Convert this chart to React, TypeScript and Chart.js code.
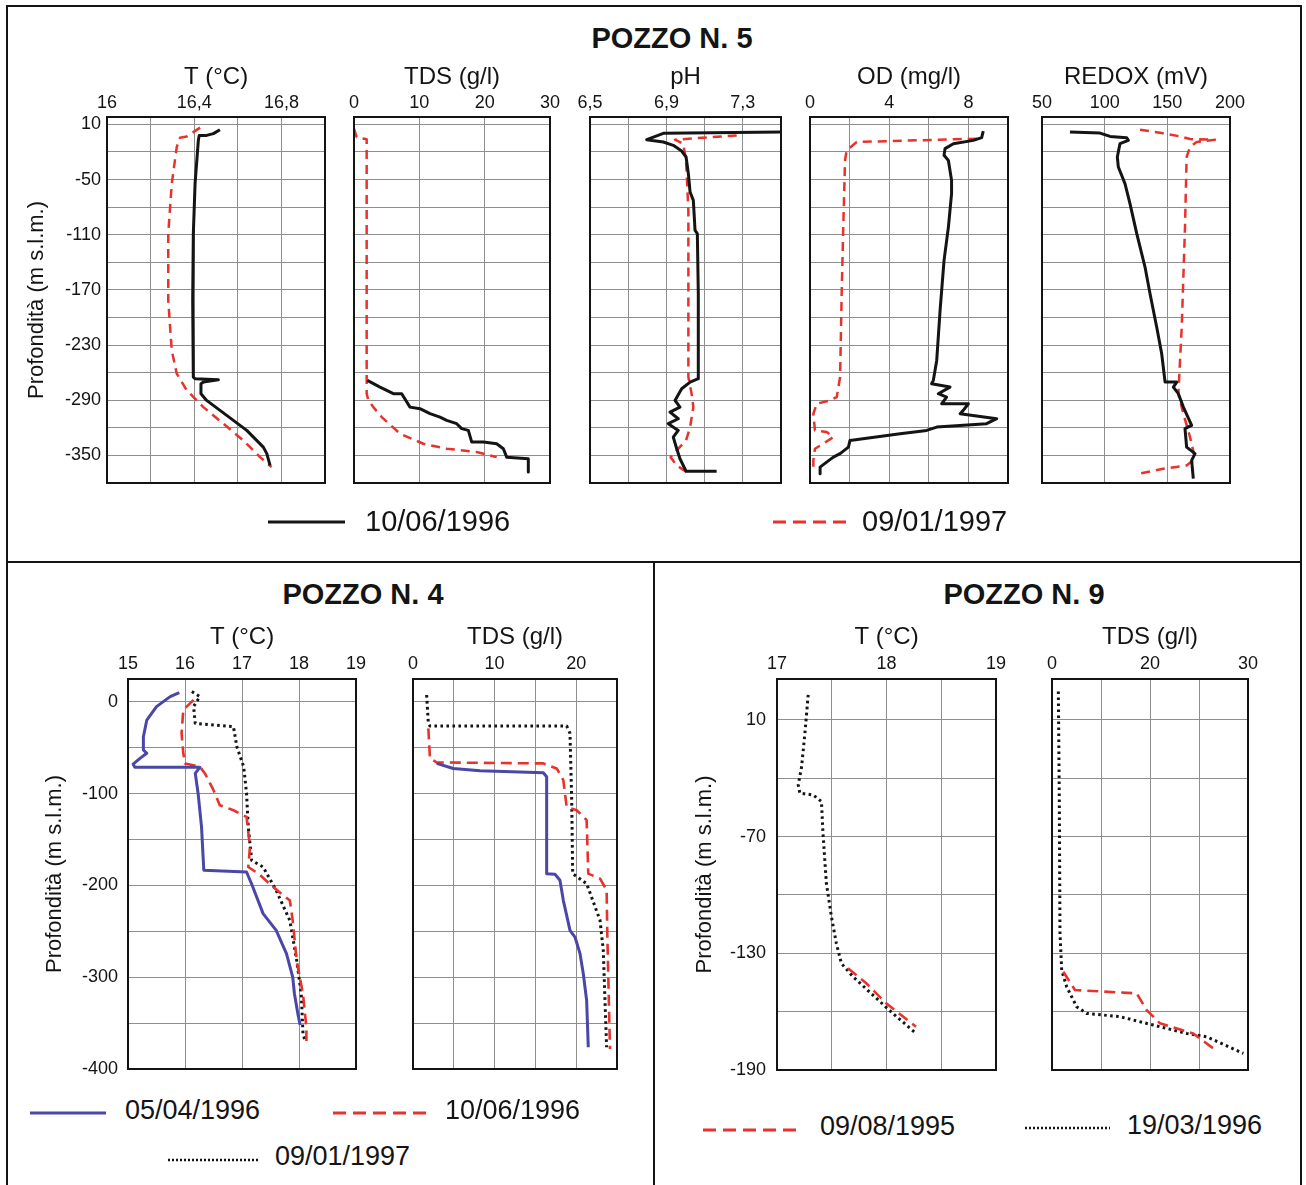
import React, { useEffect, useRef } from "react";
import { Chart, registerables } from "chart.js";

Chart.register(...registerables);
Chart.defaults.font.family = "'Liberation Sans', Arial, sans-serif";
Chart.defaults.color = "#111";

type Pt = [number, number]; // [value, depth]

// ---------------- POZZO N. 5 ----------------
const P5_DATES = ["10/06/1996", "09/01/1997"];
const P5_DEPTH_TICKS = [10, -20, -50, -80, -110, -140, -170, -200, -230, -260, -290, -320, -350, -380];
const P5_DEPTH_LABELS = ["10", "", "-50", "", "-110", "", "-170", "", "-230", "", "-290", "", "-350", ""];

const P5_T_TICKS = [16, 16.2, 16.4, 16.6, 16.8, 17];
const P5_T_LABELS = ["16", "", "16,4", "", "16,8", ""];
const P5_TDS_TICKS = [0, 10, 20, 30];
const P5_TDS_LABELS = ["0", "10", "20", "30"];
const P5_PH_TICKS = [6.5, 6.7, 6.9, 7.1, 7.3, 7.5];
const P5_PH_LABELS = ["6,5", "", "6,9", "", "7,3", ""];
const P5_OD_TICKS = [0, 2, 4, 6, 8, 10];
const P5_OD_LABELS = ["0", "", "4", "", "8", ""];
const P5_REDOX_TICKS = [50, 100, 150, 200];
const P5_REDOX_LABELS = ["50", "100", "150", "200"];

const P5_T_1996: Pt[] = [
  [16.518, 4.2], [16.488, -0.1], [16.457, -2], [16.423, -2], [16.419, -7.4], [16.404, -54.5],
  [16.396, -108.9], [16.393, -181.4], [16.396, -264.8], [16.404, -266.6], [16.511, -267.7],
  [16.442, -270.3], [16.431, -272], [16.431, -282.9], [16.457, -290.2], [16.549, -306.5],
  [16.641, -322.8], [16.717, -341], [16.733, -348.1], [16.748, -360.9],
];
const P5_T_1997: Pt[] = [
  [16.427, 6.4], [16.366, -3.1], [16.335, -4.5], [16.32, -14.7], [16.297, -54.5], [16.281, -108.9],
  [16.281, -181.4], [16.297, -235.8], [16.32, -261.1], [16.366, -279.3], [16.442, -297.5],
  [16.534, -315.5], [16.625, -333.7], [16.702, -351.9], [16.755, -362.7],
];
const P5_TDS_1996: Pt[] = [
  [2.04, -268.4], [3.98, -275.7], [6.02, -282.9], [7.3, -282.9], [8.57, -297.5], [10.1, -299.2],
  [11.63, -304.6], [13.16, -308.3], [14.19, -311.9], [15.72, -315.5], [16.48, -320.9], [17.5, -322.8],
  [18.02, -335.5], [19.8, -335.5], [21.84, -337.3], [22.86, -342.7], [23.37, -351.9], [26.68, -353.6],
  [26.68, -368.1],
];
const P5_TDS_1997: Pt[] = [
  [0, 5.3], [0.4, -4], [1.94, -6.3], [1.94, -282.9], [2.2, -290], [2.96, -297.5], [4.24, -308.3],
  [7.04, -326.4], [10.61, -337.3], [14.19, -342.7], [18.78, -346.3], [21.84, -351.9],
];
const P5_PH_1996: Pt[] = [
  [7.5, 1.6], [6.884, 0.2], [6.797, -6.7], [6.884, -9.2], [6.936, -12.8], [6.98, -19], [7.003, -25.5],
  [7.015, -43.6], [7.024, -63.6], [7.041, -72.7], [7.05, -105.3], [7.062, -108.9], [7.067, -174.1],
  [7.067, -266.6], [7.024, -270.3], [6.98, -277.5], [6.945, -290.2], [6.971, -297.5], [6.919, -302.9],
  [6.962, -310.1], [6.91, -315.5], [6.962, -322.8], [6.936, -330.1], [6.954, -342.7], [6.971, -353.6],
  [7.003, -367.1], [7.163, -367.1],
];
const P5_PH_1997: Pt[] = [
  [7.268, -2], [6.945, -6.7], [6.988, -11], [7.003, -29.2], [7.015, -83.5], [7.015, -264.8],
  [7.032, -282.9], [7.041, -297.5], [7.024, -319.2], [7.003, -333.7], [6.962, -342.7], [6.922, -351.9],
  [6.954, -360.9], [7.006, -368.1],
];
const P5_OD_1996: Pt[] = [
  [8.75, 2.7], [8.67, -4.5], [8.25, -7.4], [7.24, -11], [6.82, -16.4], [6.77, -23.7], [6.99, -29.2],
  [7.15, -50.9], [7.15, -65.4], [6.99, -101.7], [6.77, -137.9], [6.57, -192.3], [6.4, -246.7],
  [6.23, -268.4], [6.14, -272], [7.07, -275.7], [6.48, -282.9], [6.9, -286.6], [6.65, -293.8],
  [8.0, -293.8], [7.74, -301], [7.58, -304.6], [9.43, -310.1], [8.92, -315.5], [6.4, -319.2],
  [5.89, -322.8], [4.55, -326.4], [2.02, -333.7], [1.94, -341], [1.52, -348.1], [1.18, -351.9],
  [0.84, -357.3], [0.51, -362.7], [0.51, -370],
];
const P5_OD_1997: Pt[] = [
  [8.42, -5.6], [2.36, -9.2], [1.85, -18.3], [1.77, -29.2], [1.68, -101.7], [1.6, -174.1],
  [1.52, -264.8], [1.35, -286.6], [1.01, -290.2], [0.34, -293.8], [0.17, -304.6], [0.25, -322.8],
  [0.84, -324.6], [1.18, -330.1], [0.67, -337.3], [0.25, -342.7], [0.17, -355.4], [0.17, -364.5],
];
const P5_REDOX_1996: Pt[] = [
  [72.3, 1.6], [96.3, 0.5], [104.3, -3.1], [117.6, -4.5], [118.9, -7.4], [112.2, -11], [110.1, -25.5],
  [110.9, -36.4], [116.2, -54.5], [120.2, -76.2], [125.6, -108.9], [132.2, -145.2], [136.2, -174.1],
  [141.5, -210.4], [145.5, -239.4], [148.2, -270.3], [157.5, -270.3], [154.8, -275.7], [158.8, -282.9],
  [162.8, -297.5], [169.4, -317.4], [164.1, -320.9], [165.4, -341], [172.1, -348.1], [169.4, -355.4],
  [170.7, -375.3],
];
const P5_REDOX_1997: Pt[] = [
  [128.2, 4.2], [145.5, 0.5], [160.1, -3.1], [168.1, -6], [188, -6.7], [173.4, -9.2], [168.1, -14.7],
  [165.4, -25.5], [164.1, -101.7], [161.5, -210.4], [158.8, -282.9], [162.8, -304.6], [168.1, -330.1],
  [172.1, -353.6], [165.4, -360.9], [146.8, -364.5], [126.8, -370],
];

// ---------------- POZZO N. 4 ----------------
const P4_DATES = ["05/04/1996", "10/06/1996", "09/01/1997"];
const P4_DEPTH_TICKS = [0, -50, -100, -150, -200, -250, -300, -350, -400];
const P4_DEPTH_LABELS = ["0", "", "-100", "", "-200", "", "-300", "", "-400"];
const P4_T_TICKS = [15, 16, 17, 18, 19];
const P4_T_LABELS = ["15", "16", "17", "18", "19"];
const P4_TDS_TICKS = [0, 5, 10, 15, 20, 25];
const P4_TDS_LABELS = ["0", "", "10", "", "20", ""];

const P4_T_0496: Pt[] = [
  [15.9, 10.2], [15.74, 5.8], [15.5, -5.1], [15.33, -19.7], [15.27, -37.9], [15.27, -52.4], [15.33, -56],
  [15.21, -61.5], [15.09, -67.7], [15.12, -71.3], [16.26, -71.3], [16.18, -77.8], [16.23, -99.7],
  [16.29, -136.2], [16.33, -183.4], [17.08, -185.3], [17.19, -201.6], [17.37, -230.7], [17.6, -248.9],
  [17.78, -274.3], [17.89, -299.9], [17.92, -318], [17.98, -339.9], [18.02, -352],
];
const P4_T_0696: Pt[] = [
  [16.15, 2.2], [15.97, -8.7], [15.94, -34.2], [15.97, -56], [16.0, -67], [16.26, -70.7], [16.35, -77.9],
  [16.5, -96.1], [16.61, -112.5], [16.85, -118], [17.08, -125.3], [17.14, -158], [17.11, -179.9],
  [17.29, -187.2], [17.55, -201.8], [17.84, -216.4], [17.89, -238.3], [17.96, -282], [18.07, -318.4],
  [18.13, -354.9], [18.13, -369.4],
];
const P4_T_0197: Pt[] = [
  [16.12, 11.3], [16.26, 5.8], [16.15, -5.1], [16.18, -23.3], [16.85, -27], [16.91, -48.8], [17.03, -70.7],
  [17.08, -99.8], [17.11, -136.2], [17.17, -172.7], [17.37, -179.9], [17.6, -205.4], [17.84, -238.3],
  [17.96, -282], [18.04, -318.4], [18.07, -362.1], [18.11, -369.4],
];
const P4_TDS_0496: Pt[] = [
  [2.9, -67], [4.94, -72.5], [8.21, -75], [15.97, -77.2], [16.38, -81.5], [16.38, -187.1], [17.4, -187.8],
  [18.01, -194.3], [18.42, -216.2], [19.24, -248.9], [19.85, -256.2], [20.47, -274.3], [20.87, -296.2],
  [21.28, -325.3], [21.48, -376.3],
];
const P4_TDS_0696: Pt[] = [
  [1.88, -28.8], [2.08, -61.5], [2.9, -65.9], [15.97, -67], [17.61, -72.5], [18.42, -85.2], [18.83, -114.3],
  [20.06, -118], [21.28, -128.8], [21.48, -187.1], [22.92, -192.5], [23.73, -205.2], [23.81, -252.5],
  [24.14, -378.2],
];
const P4_TDS_0197: Pt[] = [
  [1.67, 7.6], [1.88, -23.3], [2.08, -26.2], [18.83, -26.2], [19.24, -34.2], [19.45, -107], [19.57, -187.1],
  [21.28, -198], [22.92, -238], [23.32, -270.7], [23.53, -325.3], [23.73, -376.3],
];

// ---------------- POZZO N. 9 ----------------
const P9_DATES = ["09/08/1995", "19/03/1996"];
const P9_DEPTH_TICKS = [-10, -40, -70, -100, -130, -160, -190];
const P9_DEPTH_LABELS = ["10", "", "-70", "", "-130", "", "-190"];
const P9_T_TICKS = [17, 17.5, 18, 18.5, 19];
const P9_T_LABELS = ["17", "", "18", "", "19"];
const P9_TDS_TICKS = [0, 7.5, 15, 22.5, 30];
const P9_TDS_LABELS = ["0", "", "20", "", "30"];

const P9_T_0895: Pt[] = [[17.648, -137.7], [17.815, -145.4], [17.997, -155.7], [18.27, -167.8]];
const P9_T_0396: Pt[] = [
  [17.285, 2.9], [17.255, -16.8], [17.225, -34], [17.194, -43.4], [17.209, -47.7], [17.33, -48.6],
  [17.406, -52], [17.42, -68.3], [17.451, -94], [17.497, -111.2], [17.542, -124.9], [17.588, -135.2],
  [17.694, -142], [17.876, -151.5], [18.058, -160.9], [18.27, -171.2],
];
const P9_TDS_0895: Pt[] = [
  [1.73, -139.5], [3.52, -148.9], [12.96, -150.6], [14.49, -159.2], [16.53, -166], [21.63, -171.2],
  [24.69, -178.9],
];
const P9_TDS_0396: Pt[] = [
  [0.97, 4.6], [1.12, -51.2], [1.22, -119.7], [1.48, -138.6], [2.24, -147.2], [3.78, -157.5],
  [5.31, -160.9], [10.41, -162.6], [15.51, -166.9], [20.62, -171.2], [23.68, -172.9], [29.28, -181.5],
];

// ---------------- styling ----------------
const FONT = "'Liberation Sans', Arial, sans-serif";
const INK = "#141414";
const RED = "#e8322c";
const BLUE = "#4a47a6";
const GRID = "#8e8e8e";

type StyleKey = "black" | "redTop" | "red" | "blue" | "dot";
const STYLES: Record<StyleKey, any> = {
  black: { borderColor: INK, borderWidth: 3, borderDash: [] },
  redTop: { borderColor: RED, borderWidth: 2.5, borderDash: [9, 6] },
  red: { borderColor: RED, borderWidth: 2.6, borderDash: [11, 6] },
  blue: { borderColor: BLUE, borderWidth: 3, borderDash: [] },
  dot: { borderColor: INK, borderWidth: 3, borderDash: [2.6, 3.4] },
};

interface PanelSpec {
  box: [number, number, number, number]; // l, t, r, b
  xTitle: string;
  xMin: number; xMax: number; xTicks: number[]; xLabels: string[];
  yMin: number; yMax: number; yTicks: number[]; yLabels: string[];
  yTitle?: string;
  yW?: number;
  yPad?: number;
  xh: number;
  xPad: number;
  series: { data: Pt[]; style: StyleKey; label: string }[];
}

const TOP = { t: 117, b: 483 };
const BOT = { t: 679, b: 1069 };

const PANELS: PanelSpec[] = [
  {
    box: [107, TOP.t, 325, TOP.b], xTitle: "T (°C)", xMin: 16, xMax: 17, xTicks: P5_T_TICKS, xLabels: P5_T_LABELS,
    yMin: -380, yMax: 18, yTicks: P5_DEPTH_TICKS, yLabels: P5_DEPTH_LABELS, yTitle: "Profondità (m s.l.m.)", yW: 85, yPad: 6,
    xh: 54, xPad: 3,
    series: [{ data: P5_T_1996, style: "black", label: P5_DATES[0] }, { data: P5_T_1997, style: "redTop", label: P5_DATES[1] }],
  },
  {
    box: [354, TOP.t, 550, TOP.b], xTitle: "TDS (g/l)", xMin: 0, xMax: 30, xTicks: P5_TDS_TICKS, xLabels: P5_TDS_LABELS,
    yMin: -380, yMax: 18, yTicks: P5_DEPTH_TICKS, yLabels: P5_DEPTH_LABELS, xh: 54, xPad: 3,
    series: [{ data: P5_TDS_1996, style: "black", label: P5_DATES[0] }, { data: P5_TDS_1997, style: "redTop", label: P5_DATES[1] }],
  },
  {
    box: [590, TOP.t, 781, TOP.b], xTitle: "pH", xMin: 6.5, xMax: 7.5, xTicks: P5_PH_TICKS, xLabels: P5_PH_LABELS,
    yMin: -380, yMax: 18, yTicks: P5_DEPTH_TICKS, yLabels: P5_DEPTH_LABELS, xh: 54, xPad: 3,
    series: [{ data: P5_PH_1996, style: "black", label: P5_DATES[0] }, { data: P5_PH_1997, style: "redTop", label: P5_DATES[1] }],
  },
  {
    box: [810, TOP.t, 1008, TOP.b], xTitle: "OD (mg/l)", xMin: 0, xMax: 10, xTicks: P5_OD_TICKS, xLabels: P5_OD_LABELS,
    yMin: -380, yMax: 18, yTicks: P5_DEPTH_TICKS, yLabels: P5_DEPTH_LABELS, xh: 54, xPad: 3,
    series: [{ data: P5_OD_1996, style: "black", label: P5_DATES[0] }, { data: P5_OD_1997, style: "redTop", label: P5_DATES[1] }],
  },
  {
    box: [1042, TOP.t, 1230, TOP.b], xTitle: "REDOX (mV)", xMin: 50, xMax: 200, xTicks: P5_REDOX_TICKS, xLabels: P5_REDOX_LABELS,
    yMin: -380, yMax: 18, yTicks: P5_DEPTH_TICKS, yLabels: P5_DEPTH_LABELS, xh: 54, xPad: 3,
    series: [{ data: P5_REDOX_1996, style: "black", label: P5_DATES[0] }, { data: P5_REDOX_1997, style: "redTop", label: P5_DATES[1] }],
  },
  {
    box: [128, BOT.t, 356, BOT.b], xTitle: "T (°C)", xMin: 15, xMax: 19, xTicks: P4_T_TICKS, xLabels: P4_T_LABELS,
    yMin: -400, yMax: 25, yTicks: P4_DEPTH_TICKS, yLabels: P4_DEPTH_LABELS, yTitle: "Profondità (m s.l.m.)", yW: 88, yPad: 10,
    xh: 56, xPad: 4,
    series: [
      { data: P4_T_0496, style: "blue", label: P4_DATES[0] },
      { data: P4_T_0696, style: "red", label: P4_DATES[1] },
      { data: P4_T_0197, style: "dot", label: P4_DATES[2] },
    ],
  },
  {
    box: [413, BOT.t, 617, BOT.b], xTitle: "TDS (g/l)", xMin: 0, xMax: 25, xTicks: P4_TDS_TICKS, xLabels: P4_TDS_LABELS,
    yMin: -400, yMax: 25, yTicks: P4_DEPTH_TICKS, yLabels: P4_DEPTH_LABELS, xh: 56, xPad: 4,
    series: [
      { data: P4_TDS_0496, style: "blue", label: P4_DATES[0] },
      { data: P4_TDS_0696, style: "red", label: P4_DATES[1] },
      { data: P4_TDS_0197, style: "dot", label: P4_DATES[2] },
    ],
  },
  {
    box: [777, BOT.t, 996, 1070], xTitle: "T (°C)", xMin: 17, xMax: 19, xTicks: P9_T_TICKS, xLabels: P9_T_LABELS,
    yMin: -190, yMax: 11, yTicks: P9_DEPTH_TICKS, yLabels: P9_DEPTH_LABELS, yTitle: "Profondità (m s.l.m.)", yW: 87, yPad: 11,
    xh: 56, xPad: 4,
    series: [
      { data: P9_T_0895, style: "red", label: P9_DATES[0] },
      { data: P9_T_0396, style: "dot", label: P9_DATES[1] },
    ],
  },
  {
    box: [1052, BOT.t, 1248, 1070], xTitle: "TDS (g/l)", xMin: 0, xMax: 30, xTicks: P9_TDS_TICKS, xLabels: P9_TDS_LABELS,
    yMin: -190, yMax: 11, yTicks: P9_DEPTH_TICKS, yLabels: P9_DEPTH_LABELS, xh: 56, xPad: 4,
    series: [
      { data: P9_TDS_0895, style: "red", label: P9_DATES[0] },
      { data: P9_TDS_0396, style: "dot", label: P9_DATES[1] },
    ],
  },
];

const boxBorder = {
  id: "boxBorder",
  afterDraw(chart: any) {
    const { ctx, chartArea } = chart;
    ctx.save();
    ctx.strokeStyle = INK;
    ctx.lineWidth = 2;
    ctx.strokeRect(chartArea.left, chartArea.top, chartArea.right - chartArea.left, chartArea.bottom - chartArea.top);
    ctx.restore();
  },
};

function Panel({ spec }: { spec: PanelSpec }) {
  const ref = useRef<HTMLCanvasElement | null>(null);
  const [l, t, r, b] = spec.box;
  const hasY = !!spec.yTitle;
  const yW = hasY ? spec.yW! : 0;
  const padL = hasY ? 8 : 30;
  const padR = 30;
  const padT = 6;
  const padB = 6;
  const cx = l - yW - padL;
  const cy = t - spec.xh - padT;
  const cw = r - cx + padR;
  const ch = b - cy + padB;

  useEffect(() => {
    if (!ref.current) return;
    const chart = new Chart(ref.current, {
      type: "line",
      data: {
        datasets: spec.series.map((s) => ({
          label: s.label,
          data: s.data.map(([x, y]) => ({ x, y })),
          ...STYLES[s.style],
          pointRadius: 0,
          fill: false,
          tension: 0,
          borderJoinStyle: "round",
          borderCapStyle: "butt",
        })),
      },
      options: {
        responsive: false,
        animation: false,
        events: [],
        layout: { padding: { left: padL, right: padR, top: padT, bottom: padB } },
        plugins: { legend: { display: false }, tooltip: { enabled: false }, title: { display: false } },
        scales: {
          x: {
            type: "linear",
            position: "top",
            min: spec.xMin,
            max: spec.xMax,
            bounds: "data",
            grid: { color: GRID, lineWidth: 1, drawTicks: false },
            border: { display: false },
            ticks: {
              autoSkip: false,
              maxRotation: 0,
              minRotation: 0,
              padding: spec.xPad,
              color: INK,
              font: { size: 18, family: FONT },
              callback: (_v: any, i: number) => spec.xLabels[i] ?? "",
            },
            title: { display: true, text: spec.xTitle, color: INK, font: { size: 24, family: FONT }, padding: { top: 0, bottom: 0 } },
            afterBuildTicks: (s: any) => {
              s.ticks = spec.xTicks.map((v) => ({ value: v }));
            },
            afterFit: (s: any) => {
              s.height = spec.xh;
              s.paddingLeft = 0;
              s.paddingRight = 0;
            },
          },
          y: {
            type: "linear",
            position: "left",
            min: spec.yMin,
            max: spec.yMax,
            bounds: "data",
            grid: { color: GRID, lineWidth: 1, drawTicks: false },
            border: { display: false },
            ticks: {
              display: hasY,
              autoSkip: false,
              padding: spec.yPad ?? 6,
              color: INK,
              font: { size: 18, family: FONT },
              callback: (_v: any, i: number) => spec.yLabels[i] ?? "",
            },
            title: {
              display: hasY,
              text: spec.yTitle ?? "",
              color: INK,
              font: { size: 22, family: FONT },
              padding: { top: 2, bottom: 0 },
            },
            afterBuildTicks: (s: any) => {
              s.ticks = spec.yTicks.map((v) => ({ value: v }));
            },
            afterFit: (s: any) => {
              s.width = yW;
              s.paddingTop = 0;
              s.paddingBottom = 0;
            },
          },
        },
      } as any,
      plugins: [boxBorder],
    });
    return () => chart.destroy();
  }, []);

  return (
    <canvas
      ref={ref}
      width={cw}
      height={ch}
      style={{ position: "absolute", left: cx, top: cy, width: cw, height: ch }}
    />
  );
}

type LegendKind = "black" | "red" | "blue" | "dot";
function LegendItem({ x1, x2, y, kind, text, tx, ty, size }: {
  x1: number; x2: number; y: number; kind: LegendKind; text: string; tx: number; ty: number; size: number;
}) {
  const stroke = kind === "red" ? RED : kind === "blue" ? BLUE : INK;
  const dash = kind === "red" ? "13 7" : kind === "dot" ? "2 2" : undefined;
  const w = kind === "dot" ? 2.5 : 3;
  return (
    <>
      <svg style={{ position: "absolute", left: x1, top: y - 4, overflow: "visible" }} width={x2 - x1} height={8}>
        <line x1={0} y1={4} x2={x2 - x1} y2={4} stroke={stroke} strokeWidth={w} strokeDasharray={dash} />
      </svg>
      <div style={{ position: "absolute", left: tx, top: ty, transform: "translateY(-50%)", fontSize: size, lineHeight: 1, color: INK, whiteSpace: "nowrap" }}>
        {text}
      </div>
    </>
  );
}

function Heading({ x, y, text }: { x: number; y: number; text: string }) {
  return (
    <div style={{ position: "absolute", left: x, top: y, transform: "translate(-50%,-50%)", fontSize: 29, fontWeight: 700, lineHeight: 1, color: INK, whiteSpace: "nowrap" }}>
      {text}
    </div>
  );
}

export default function App() {
  return (
    <div style={{ position: "absolute", left: 0, top: 0, width: 1306, height: 1185, background: "#fff", fontFamily: FONT, overflow: "hidden" }}>
      {/* frame */}
      <div style={{ position: "absolute", left: 6, top: 5, width: 1296, height: 1200, border: `2px solid ${INK}`, boxSizing: "border-box" }} />
      <div style={{ position: "absolute", left: 6, top: 561, width: 1296, height: 2, background: INK }} />
      <div style={{ position: "absolute", left: 653, top: 562, width: 2, height: 640, background: INK }} />

      <Heading x={672} y={38} text="POZZO N. 5" />
      <Heading x={363} y={594} text="POZZO N. 4" />
      <Heading x={1024} y={594} text="POZZO N. 9" />

      {PANELS.map((p, i) => (
        <Panel key={i} spec={p} />
      ))}

      <LegendItem x1={268} x2={345} y={522} kind="black" text={P5_DATES[0]} tx={365} ty={521} size={29} />
      <LegendItem x1={773} x2={848} y={522} kind="red" text={P5_DATES[1]} tx={862} ty={521} size={29} />

      <LegendItem x1={30} x2={106} y={1113} kind="blue" text={P4_DATES[0]} tx={125} ty={1110} size={27} />
      <LegendItem x1={333} x2={432} y={1113} kind="red" text={P4_DATES[1]} tx={445} ty={1110} size={27} />
      <LegendItem x1={168} x2={258} y={1160} kind="dot" text={P4_DATES[2]} tx={275} ty={1156} size={27} />

      <LegendItem x1={703} x2={800} y={1130} kind="red" text={P9_DATES[0]} tx={820} ty={1126} size={27} />
      <LegendItem x1={1025} x2={1110} y={1128} kind="dot" text={P9_DATES[1]} tx={1127} ty={1125} size={27} />
    </div>
  );
}
